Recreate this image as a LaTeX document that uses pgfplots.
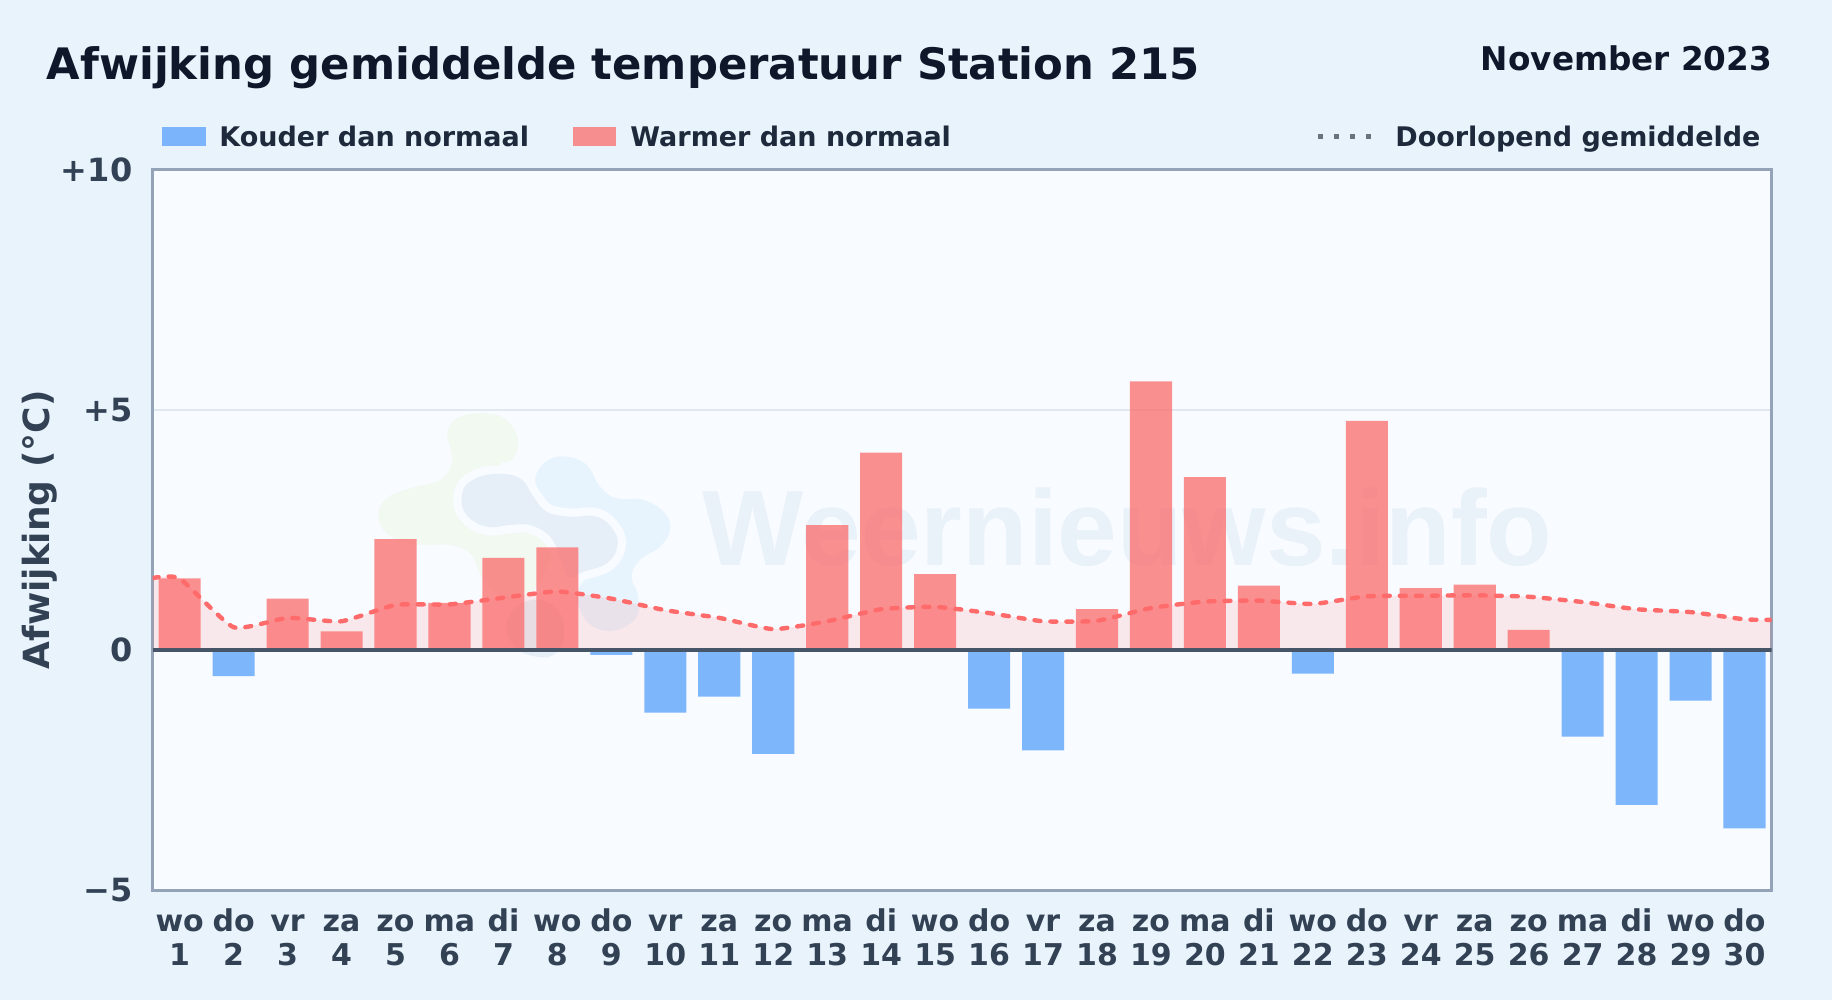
\documentclass[border=0pt]{standalone}
\usepackage{fontspec}
\usepackage{pgfplots}
\pgfplotsset{compat=1.18}
\setmainfont{DejaVu Sans}
\newfontfamily\wmfont{Liberation Sans}

\definecolor{pagebg}{HTML}{E8F3FC}
\definecolor{plotbg}{HTML}{F8FBFF}
\definecolor{border}{HTML}{94A3B8}
\definecolor{gridc}{HTML}{E2E8F0}
\definecolor{zeroc}{HTML}{475569}
\definecolor{ticktxt}{HTML}{334155}
\definecolor{legtxt}{HTML}{1E293B}
\definecolor{titletxt}{HTML}{0F172A}
\definecolor{warm}{HTML}{FF6B6B}
\definecolor{warmbar}{HTML}{FB6B6B}
\definecolor{cold}{HTML}{60A5FA}
\definecolor{dotc}{HTML}{6B7280}
\definecolor{wmgreen}{HTML}{F2F9F1}
\definecolor{wmblue}{HTML}{E8F4FD}
\definecolor{wmmid}{HTML}{E6EFF7}
\definecolor{wmtext}{HTML}{E9F1F9}

% day label: fixed height for the first line, so all labels share a baseline
\newcommand{\dl}[2]{\rule{0pt}{11.5pt}#1\\#2}

\begin{document}
\begin{tikzpicture}
% 1 px of the reference = 0.5pt
\begin{scope}[x=0.5pt,y=-0.5pt]
  \path[use as bounding box,fill=pagebg] (0,0) rectangle (1832,1000);
  \fill[plotbg] (152.7,169.6) rectangle (1771.5,890.3);
  % watermark
  \node[anchor=base west,inner sep=0pt,text=wmtext,font=\fontsize{53.6}{56}\wmfont\bfseries] at (702,565) {Weernieuws.info};
\end{scope}
\begin{scope}[shift={(180pt,-200pt)},x=0.16667pt,y=-0.16667pt]
  \fill[wmgreen] plot[smooth cycle,tension=0.7] coordinates {(262,100)(290,55)(370,40)(440,60)(475,125)(455,180)(420,200)(460,300)(540,400)(590,440)(560,500)(530,560)(480,590)(420,590)(365,530)(330,460)(270,435)(200,435)(130,425)(75,395)(55,345)(80,295)(150,265)(240,240)(275,190)(270,140)};
  \fill[wmblue] plot[smooth cycle,tension=0.7] coordinates {(530,220)(565,180)(620,170)(680,195)(720,260)(770,295)(850,300)(915,340)(930,390)(900,440)(840,480)(815,530)(835,590)(830,650)(770,690)(700,680)(660,630)(655,570)(690,525)(740,490)(760,440)(750,400)(700,360)(620,345)(560,310)(530,260)};
  \draw[plotbg,line width=8.3pt,line join=round] plot[smooth cycle,tension=0.7] coordinates {(305,290)(330,245)(400,222)(480,235)(520,290)(560,335)(630,350)(710,350)(760,390)(772,440)(740,490)(670,515)(625,530)(605,480)(570,410)(510,375)(450,375)(380,380)(320,345)};
  \fill[wmmid] plot[smooth cycle,tension=0.7] coordinates {(305,290)(330,245)(400,222)(480,235)(520,290)(560,335)(630,350)(710,350)(760,390)(772,440)(740,490)(670,515)(625,530)(605,480)(570,410)(510,375)(450,375)(380,380)(320,345)};
  \fill[wmmid] plot[smooth cycle,tension=0.7] coordinates {(440,680)(470,620)(540,600)(600,640)(610,720)(580,765)(530,770)(470,745)};
\end{scope}

\begin{axis}[
    at={(76.35pt,-445.15pt)},
    anchor=south west,
    scale only axis,
    width=809.4pt,
    height=360.35pt,
    xmin=-0.5, xmax=29.5,
    ymin=-5, ymax=10,
    axis line style={draw=border,line width=1.35pt},
    major tick length=0pt,
    ytick={-5,0,5,10},
    yticklabels={−5,0,+5,+10},
    xtick={0,...,29},
    xticklabels={{\dl{wo}{1}},{\dl{do}{2}},{\dl{vr}{3}},{\dl{za}{4}},{\dl{zo}{5}},{\dl{ma}{6}},{\dl{di}{7}},{\dl{wo}{8}},{\dl{do}{9}},{\dl{vr}{10}},{\dl{za}{11}},{\dl{zo}{12}},{\dl{ma}{13}},{\dl{di}{14}},{\dl{wo}{15}},{\dl{do}{16}},{\dl{vr}{17}},{\dl{za}{18}},{\dl{zo}{19}},{\dl{ma}{20}},{\dl{di}{21}},{\dl{wo}{22}},{\dl{do}{23}},{\dl{vr}{24}},{\dl{za}{25}},{\dl{zo}{26}},{\dl{ma}{27}},{\dl{di}{28}},{\dl{wo}{29}},{\dl{do}{30}}},
    x tick label style={font=\fontsize{15}{16.9}\selectfont\bfseries,text=ticktxt,align=center,anchor=north,inner sep=0pt,yshift=-8.9pt},
    y tick label style={font=\fontsize{16}{18}\selectfont\bfseries,text=ticktxt,anchor=east,inner sep=0pt,xshift=-10pt},
    ymajorgrids=true,
    grid style={draw=gridc,line width=0.8pt},
    ylabel={Afwijking (°C)},
    every axis y label/.style={at={(axis description cs:0,0.5)},rotate=90,anchor=center,yshift=56.5pt,font=\fontsize{18}{20}\selectfont\bfseries,text=ticktxt},
]

% running mean, filled down to zero
\addplot[draw=none,fill=warm,fill opacity=0.13,smooth,tension=0.3] coordinates {
  (-0.5,1.50)(0,1.49)(1,0.475)(2,0.67)(3,0.60)(4,0.94)(5,0.95)(6,1.09)(7,1.22)(8,1.07)(9,0.83)
  (10,0.67)(11,0.435)(12,0.60)(13,0.85)(14,0.90)(15,0.77)(16,0.60)(17,0.61)(18,0.875)(19,1.01)
  (20,1.03)(21,0.96)(22,1.12)(23,1.13)(24,1.14)(25,1.11)(26,1.00)(27,0.85)(28,0.79)(29,0.64)(29.5,0.63)
} \closedcycle;

% warmer
\addplot[ybar,bar width=0.78,draw=none,fill=warmbar,fill opacity=0.75] coordinates {
  (0,1.49)(2,1.07)(3,0.39)(4,2.31)(5,0.98)(6,1.92)(7,2.14)(12,2.60)(13,4.11)(14,1.58)
  (17,0.85)(18,5.59)(19,3.60)(20,1.34)(22,4.77)(23,1.29)(24,1.36)(25,0.42)
};
% colder
\addplot[ybar,bar width=0.78,draw=none,fill=cold,fill opacity=0.8] coordinates {
  (1,-0.54)(8,-0.10)(9,-1.30)(10,-0.97)(11,-2.16)(15,-1.22)(16,-2.09)(21,-0.49)
  (26,-1.80)(27,-3.22)(28,-1.05)(29,-3.71)
};

% zero line
\addplot[draw=zeroc,line width=1.85pt] coordinates {(-0.5,0)(29.5,0)};

% running mean, dashed line
\addplot[draw=warm,line width=2.2pt,line cap=round,dash pattern=on 3pt off 5pt,smooth,tension=0.3] coordinates {
  (-0.5,1.50)(0,1.49)(1,0.475)(2,0.67)(3,0.60)(4,0.94)(5,0.95)(6,1.09)(7,1.22)(8,1.07)(9,0.83)
  (10,0.67)(11,0.435)(12,0.60)(13,0.85)(14,0.90)(15,0.77)(16,0.60)(17,0.61)(18,0.875)(19,1.01)
  (20,1.03)(21,0.96)(22,1.12)(23,1.13)(24,1.14)(25,1.11)(26,1.00)(27,0.85)(28,0.79)(29,0.64)(29.5,0.63)
};
\end{axis}

\begin{scope}[x=0.5pt,y=-0.5pt,every node/.style={inner sep=0pt}]
  % title
  \node[anchor=base west,text=titletxt,font=\fontsize{21.67}{24}\selectfont\bfseries] at (46.4,79.3) {Afwijking gemiddelde temperatuur Station 215};
  \node[anchor=base east,text=titletxt,font=\fontsize{16.33}{18}\selectfont\bfseries] at (1772.5,71) {November 2023};
  % legend
  \fill[cold,opacity=0.8] (162,127) rectangle (206,146);
  \node[anchor=base west,text=legtxt,font=\fontsize{13.5}{15}\selectfont\bfseries] at (219,147) {Kouder dan normaal};
  \fill[warmbar,opacity=0.75] (573,127) rectangle (616,146);
  \node[anchor=base west,text=legtxt,font=\fontsize{13.5}{15}\selectfont\bfseries] at (630,147) {Warmer dan normaal};
  \draw[dotc,line width=2.4pt,dash pattern=on 2.5pt off 5.5pt] (1318,136.8) -- (1374,136.8);
  \node[anchor=base west,text=legtxt,font=\fontsize{13.5}{15}\selectfont\bfseries] at (1395,147) {Doorlopend gemiddelde};
\end{scope}
\end{tikzpicture}
\end{document}
